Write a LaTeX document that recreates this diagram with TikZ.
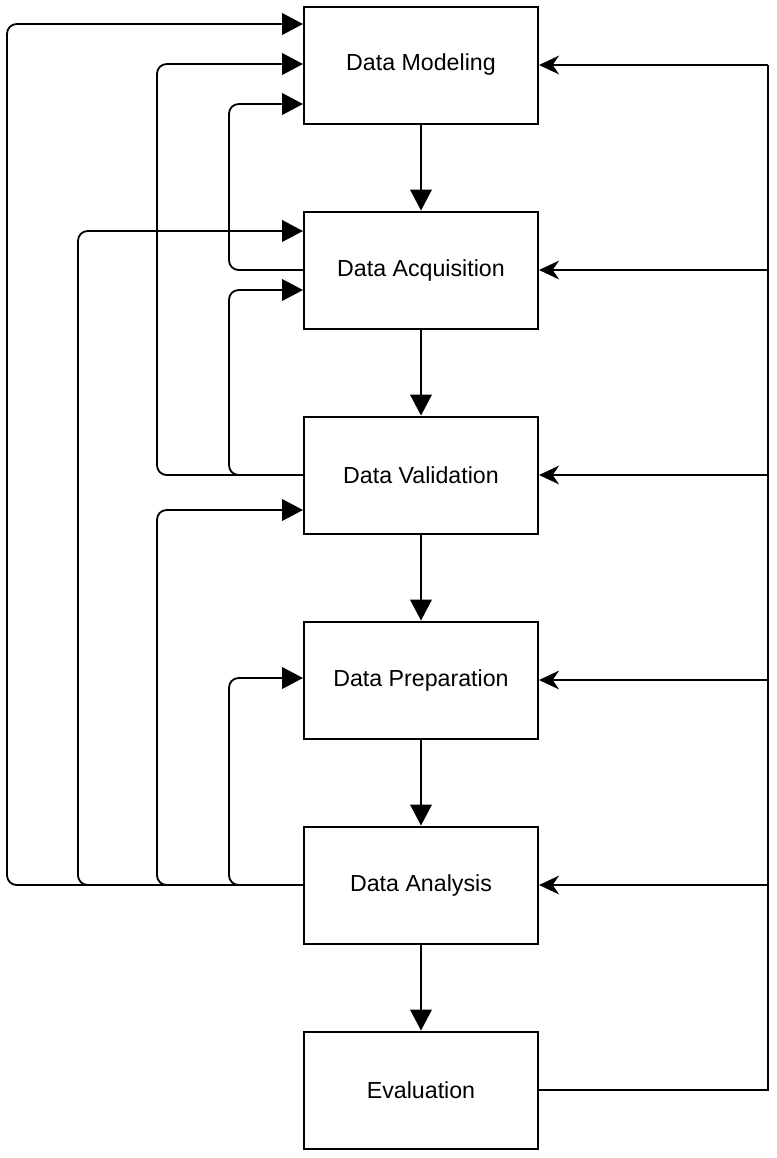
\documentclass[tikz,border=0pt]{standalone}
\usepackage{fontspec}
\setmainfont{Liberation Sans}
\usetikzlibrary{calc,positioning}
\usetikzlibrary{arrows.meta}

\begin{document}
\begin{tikzpicture}[%
    x=0.3mm, y=-0.3mm,
    text=black,
    node font=\fontsize{19.8}{23}\selectfont,
    stage/.style={rectangle, draw, line width=0.6mm,
      minimum width=70.2mm, minimum height=35.1mm, inner sep=0},
    line/.style={line width=0.55mm},
    back/.style={line, rounded corners=2.9mm,
      -{Triangle[length=6.3mm,width=6.5mm]}},
    fwd/.style={line, -{Triangle[length=6.3mm,width=6.5mm]}},
    feed/.style={line, -{Stealth[length=6mm,width=5.6mm,inset=1.9mm]}}]

  \useasboundingbox (0,0) rectangle (777,1158);

  % stages
  \node (DM) at (421,65) [stage] {Data Modeling};
  \node (DA) [below=25.8mm of DM, stage] {Data Acquisition};
  \node (DV) [below=25.8mm of DA, stage] {Data Validation};
  \node (DP) [below=25.8mm of DV, stage] {Data Preparation};
  \node (DAn) [below=25.8mm of DP, stage] {Data Analysis};
  \node (EV) [below=25.8mm of DAn, stage] {Evaluation};

  \draw[fwd] (DM) -- (DA);
  \draw[fwd] (DA) -- (DV);
  \draw[fwd] (DV) -- (DP);
  \draw[fwd] (DP) -- (DAn);
  \draw[fwd] (DAn) -- (EV);

  % bus lines
  \coordinate (L1) at (7,0);
  \coordinate (L2) at (78,0);
  \coordinate (L3) at (157,0);
  \coordinate (L4) at (229,0);
  \coordinate (R) at (768,0);

  % entry points on the left
  \coordinate (DMa) at ($(DM.west)+(0,-41)$);
  \coordinate (DMb) at ($(DM.west)+(0,-1)$);
  \coordinate (DMc) at ($(DM.west)+(0,39)$);
  \coordinate (DAa) at ($(DA.west)+(0,-39)$);
  \coordinate (DAb) at ($(DA.west)+(0,20)$);
  \coordinate (DVa) at ($(DV.west)+(0,35)$);
  \coordinate (DPa) at ($(DP.west)+(0,-2)$);

  % --- going back -------------------------
  \draw[back] (DA.west) -- (DA.west -| L4) -- (DMc -| L4) -- (DMc);
  \draw[back] (DV.west) -- (DV.west -| L4) -- (DAb -| L4) -- (DAb);
  \draw[back] (DV.west) -- (DV.west -| L3) -- (DMb -| L3) -- (DMb);
  \draw[back] (DAn.west) -- (DAn.west -| L1) -- (DMa -| L1) -- (DMa);
  \draw[back] (DAn.west) -- (DAn.west -| L2) -- (DAa -| L2) -- (DAa);
  \draw[back] (DAn.west) -- (DAn.west -| L3) -- (DVa -| L3) -- (DVa);
  \draw[back] (DAn.west) -- (DAn.west -| L4) -- (DPa -| L4) -- (DPa);

  % --- evaluation feedback ----------------
  \draw[line] (EV.east) -- (EV.east -| R) -- (DM.east -| R);
  \foreach \s in {DM,DA,DV,DP,DAn}
    \draw[feed] (\s.east -| R) -- (\s.east);
\end{tikzpicture}
\end{document}
